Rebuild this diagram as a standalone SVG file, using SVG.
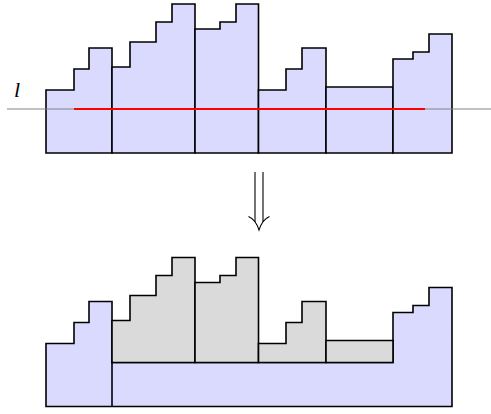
<svg xmlns="http://www.w3.org/2000/svg" width="491" height="414" viewBox="0 0 491 414">
<style>
.b{fill:#dadafe;stroke:#000;stroke-width:1.6;stroke-linejoin:miter}
.g{fill:#dadada;stroke:#000;stroke-width:1.6;stroke-linejoin:miter}
.k{fill:none;stroke:#000;stroke-width:1.6}
.a{fill:none;stroke:#000;stroke-width:1.1}
</style>
<rect width="491" height="414" fill="#fff"/>
<g id="top">
<path class="b" d="M46,153 V90 H74 V69 H89 V48 H112 V153 Z"/>
<path class="b" d="M112,153 V67 H130 V42 H156 V22 H172 V4 H195 V153 Z"/>
<path class="b" d="M195,153 V29 H220 V22 H236 V4 H258.5 V153 Z"/>
<path class="b" d="M258.5,153 V90 H286 V69 H302 V48 H326 V153 Z"/>
<path class="b" d="M326,153 V87 H393 V153 Z"/>
<path class="b" d="M393,153 V59 H413 V52 H429 V34 H452 V153 Z"/>
</g>
<g id="line-l">
<line x1="7" y1="109" x2="491" y2="109" stroke="#808080" stroke-opacity="0.65" stroke-width="1.6"/>
<line x1="74" y1="109" x2="425" y2="109" stroke="#ff0000" stroke-width="1.8"/>
<text x="14" y="97" font-family="Liberation Serif, serif" font-style="italic" font-size="22">l</text>
</g>
<g id="bottom" transform="translate(0,253.5)">
<path class="b" d="M46,153 V90 H74 V69 H89 V48 H112 V109 H393 V59 H413 V52 H429 V34 H452 V153 Z"/>
<path class="g" d="M112,109 V67 H130 V42 H156 V22 H172 V4 H195 V109 Z"/>
<path class="g" d="M195,109 V29 H220 V22 H236 V4 H258.5 V109 Z"/>
<path class="g" d="M258.5,109 V90 H286 V69 H302 V48 H326 V109 Z"/>
<path class="g" d="M326,109 V87 H393 V109 Z"/>
<path class="k" d="M112,108 V153"/>
</g>
<g id="connectors">
<line class="a" x1="255" y1="172" x2="255" y2="222"/>
<line class="a" x1="263" y1="172" x2="263" y2="222"/>
<path class="a" d="M248.5,216.5 C253,218.5 257,223.5 259,230 C261,223.5 265,218.5 269.5,216.5"/>
</g>
</svg>
